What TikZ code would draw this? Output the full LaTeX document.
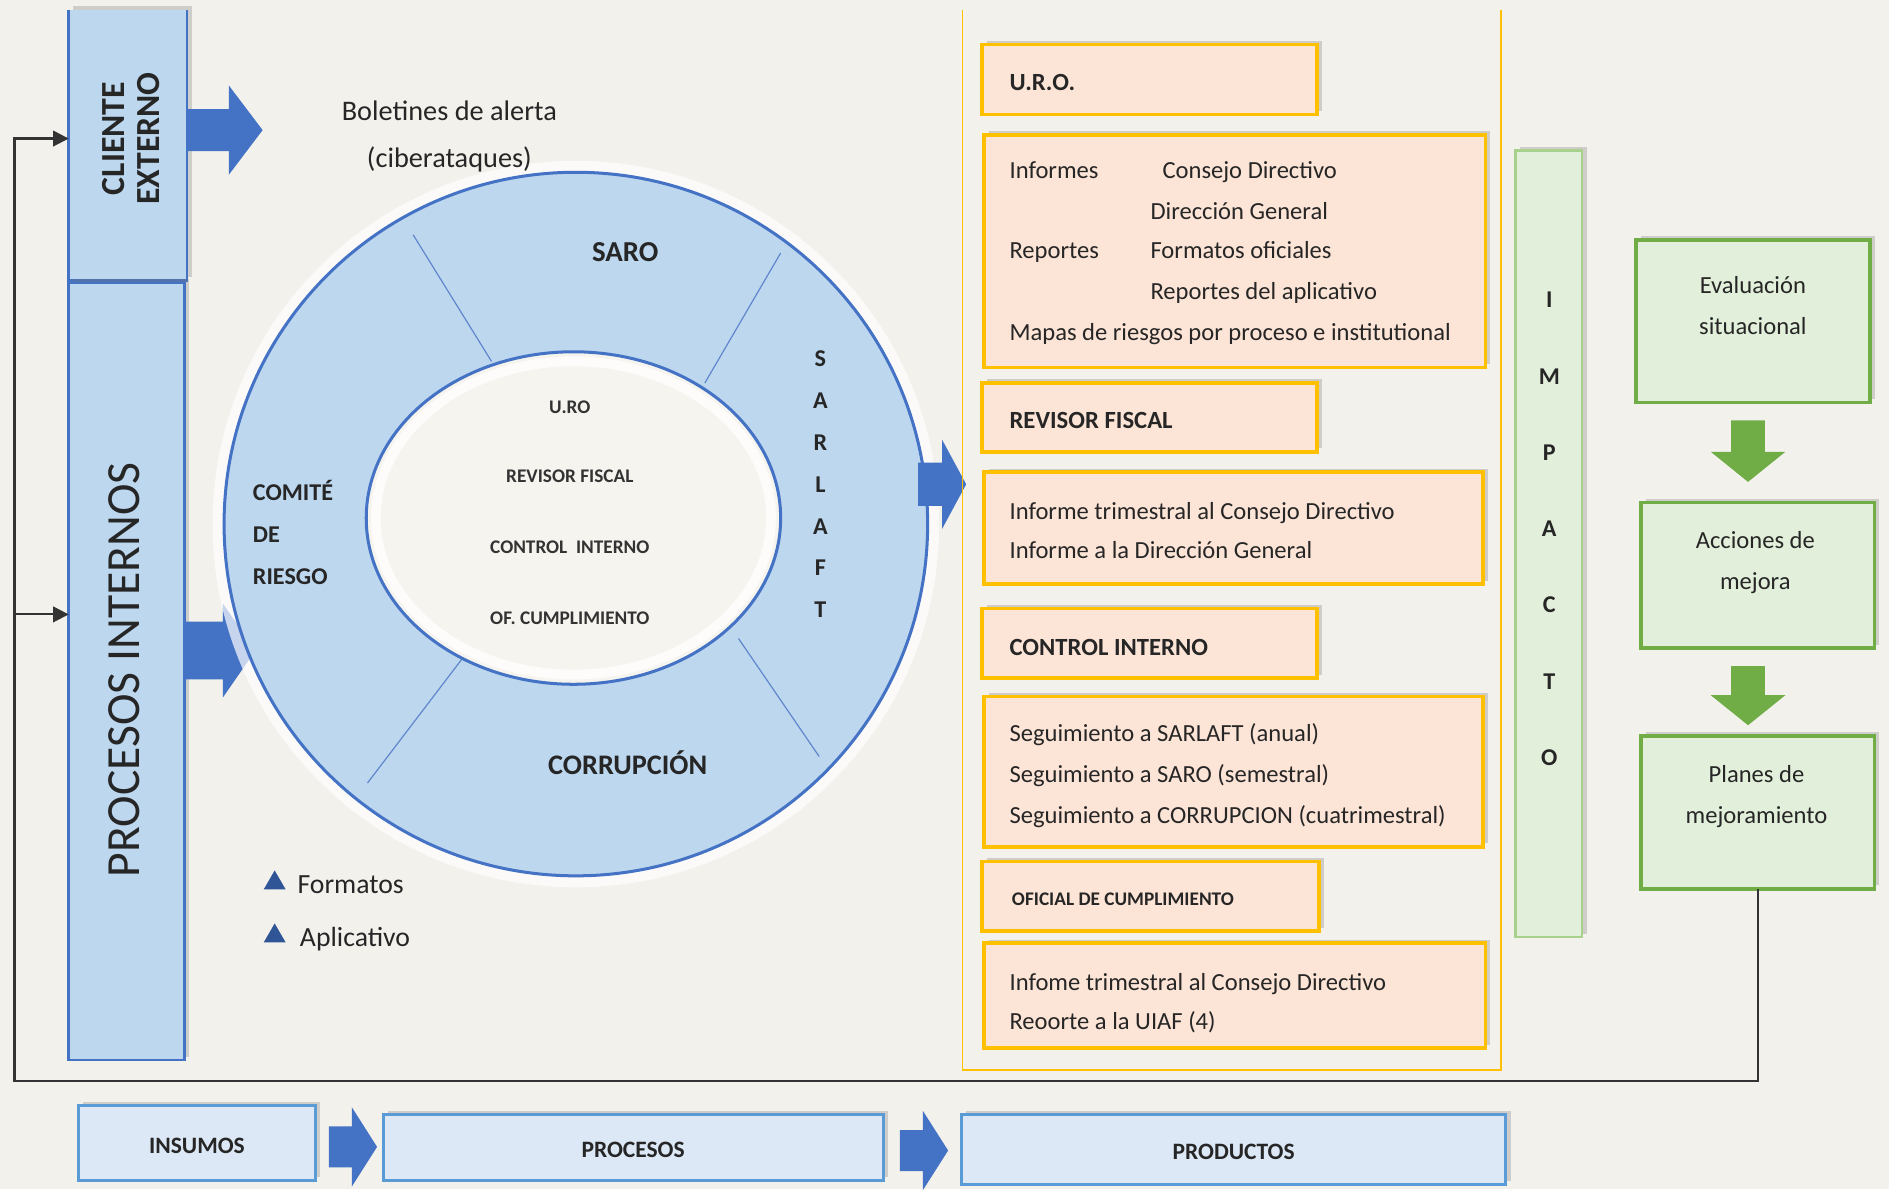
\documentclass[tikz,border=0pt]{standalone}
\usepackage{fontspec}
\setmainfont{Carlito}
\usetikzlibrary{shadows,arrows.meta,shapes.geometric}
\definecolor{bgc}{HTML}{F3F1EC}
\definecolor{lblue}{HTML}{BDD7EE}
\definecolor{dblue}{HTML}{4472C4}
\definecolor{pblue}{HTML}{DCE8F5}
\definecolor{mblue}{HTML}{5B9BD5}
\definecolor{ofill}{HTML}{FCE4D6}
\definecolor{gold}{HTML}{FFC000}
\definecolor{gfill}{HTML}{E2EFDA}
\definecolor{gline}{HTML}{70AD47}
\definecolor{glight}{HTML}{A9D18E}
\definecolor{txt}{HTML}{262626}
\definecolor{innerc}{HTML}{F6F4EF}
\definecolor{tri}{HTML}{2F5597}
\newcommand\myfs[2]{\fontsize{#1}{#2}\selectfont}
% right-pointing block arrow: x0, yc, x1, shaft half, head half, head length, colour
\newcommand\rarrowshape[7]{%
  \fill[#7] (#1,{#2-#4}) -- ({#3-#6},{#2-#4}) -- ({#3-#6},{#2-#5}) -- (#3,#2)
   -- ({#3-#6},{#2+#5}) -- ({#3-#6},{#2+#4}) -- (#1,{#2+#4}) -- cycle;}
% down-pointing block arrow: xc, y0, y1, shaft half, head half, head length, colour
\newcommand\darrowshape[7]{%
  \fill[#7] ({#1-#4},#2) -- ({#1-#4},{#3-#6}) -- ({#1-#5},{#3-#6}) -- (#1,#3)
   -- ({#1+#5},{#3-#6}) -- ({#1+#4},{#3-#6}) -- ({#1+#4},#2) -- cycle;}
\begin{document}
\begin{tikzpicture}[x=1pt,y=-1pt,
  every node/.style={inner sep=0pt,outer sep=0pt,text=txt},
  shad/.style={drop shadow={shadow xshift=4pt,shadow yshift=3pt,fill=black!55,opacity=.28}},
  obox/.style={fill=ofill,draw=gold,line width=3pt,shad,anchor=north west},
  gbox/.style={fill=gfill,draw=gline,line width=3pt,shad,anchor=north west},
  pbox/.style={fill=pblue,draw=mblue,line width=2.5pt,shad,anchor=north west},
  lbl/.style={font=\bfseries\myfs{20.5}{24},anchor=mid west,yshift=-4.5pt},
  body/.style={font=\myfs{20.4}{24},anchor=mid west,yshift=-4.5pt},
  gtxt/.style={align=center,font=\myfs{20.4}{34}},
  btxt/.style={font=\bfseries\myfs{19.5}{22},yshift=-2pt},
  inl/.style={font=\bfseries\myfs{16}{20},text=black!80},
  fb/.style={draw=black!80,line width=1.8pt,-{Triangle[length=13pt,width=13pt]}},
]
\useasboundingbox (0,0) rectangle (1568,987);
\fill[bgc] (0,0) rectangle (1568,987);

% ---------- left column ----------
\node[fill=lblue,shad,minimum width=98pt,minimum height=225pt,anchor=north west] (ce) at (57,8) {};
\draw[dblue,line width=2pt] (ce.north west) -- (ce.south west) -- (ce.south east) -- (ce.north east);
\node[rotate=90,align=center,font=\bfseries\myfs{28}{29}] (cet) at (109,115) {CLIENTE\\EXTERNO};
\node[fill=lblue,draw=dblue,line width=2pt,shad,minimum width=96pt,minimum height=645pt,anchor=north west] (pi) at (57,235) {};
\node[rotate=90,font=\myfs{39.5}{40}] (pit) at (103,556) {PROCESOS INTERNOS};

\rarrowshape{155}{108}{218}{17.5}{37}{28}{dblue}
\rarrowshape{153}{540}{212}{24}{39}{27}{dblue}

% ---------- ring ----------
\draw[white,line width=9pt,opacity=.7] (478,435) ellipse[x radius=297,y radius=297];
\node[circle,minimum size=584pt,fill=lblue,draw=dblue,line width=2.5pt] (ring) at (478,435) {};
\draw[dblue!85,line width=1pt] (343,195) -- (408,300);
\draw[dblue!85,line width=1pt] (648,210) -- (585,318);
\draw[dblue!85,line width=1pt] (305,650) -- (385,545);
\draw[dblue!85,line width=1pt] (613,530) -- (680,628);
\node[ellipse,minimum width=344pt,minimum height=276pt,fill=innerc,draw=dblue,line width=2.5pt] (inner) at (476,430) {};
\draw[white,line width=8pt,opacity=.8] (476,430) ellipse[x radius=164,y radius=130];

\node[align=center,font=\myfs{23.5}{39}] (bol) at (373,113) {Boletines de alerta\\(ciberataques)};

\node[font=\bfseries\myfs{24}{28}] (saro) at (519,209) {SARO};
\node[font=\bfseries\myfs{23.5}{28}] (corr) at (521,633) {CORRUPCIÓN};
\node[align=left,anchor=west,font=\bfseries\myfs{20}{34.5}] (comite) at (210,442) {COMITÉ\\DE\\RIESGO};
\node[align=center,font=\bfseries\myfs{20}{34.7}] (sarlaft) at (681,402) {S\\A\\R\\L\\A\\F\\T};
\node[inl] (i1) at (473,338) {U.RO};
\node[inl] (i2) at (473,395) {REVISOR FISCAL};
\node[inl] (i3) at (473,454) {CONTROL\ \ INTERNO};
\node[inl] (i4) at (473,513) {OF. CUMPLIMIENTO};

\rarrowshape{762}{402}{802}{18}{37}{20}{dblue}

% legend
\node[regular polygon,regular polygon sides=3,fill=tri,minimum size=21pt] (tr1) at (228,733) {};
\node[font=\myfs{23}{26},anchor=mid west,yshift=-4pt] (fmt) at (247,735) {Formatos};
\node[regular polygon,regular polygon sides=3,fill=tri,minimum size=21pt] (tr2) at (228,777) {};
\node[font=\myfs{23}{26},anchor=mid west,yshift=-4pt] (apl) at (249,779) {Aplicativo};

% ---------- products frame ----------
\draw[gold,line width=1.5pt] (799,8) -- (799,888) -- (1246,888) -- (1246,8);

\node[obox,minimum width=278pt,minimum height=58pt] (uro) at (815,37) {};
\node[lbl] (urot) at (838,68) {U.R.O.};
\node[obox,minimum width=416pt,minimum height=193pt] (inf) at (817,112) {};
\node[body] (t1) at (838,141) {Informes};
\node[body] (t2) at (965,141) {Consejo Directivo};
\node[body] (t3) at (955,175) {Dirección General};
\node[body] (t4) at (838,208) {Reportes};
\node[body] (t5) at (955,208) {Formatos oficiales};
\node[body] (t6) at (955,242) {Reportes del aplicativo};
\node[body] (t7) at (838,276) {Mapas de riesgos por proceso e institutional};

\node[obox,minimum width=278pt,minimum height=57pt] (rf) at (815,318) {};
\node[lbl] (rft) at (838,349) {REVISOR FISCAL};
\node[obox,minimum width=414pt,minimum height=93pt] (rfb) at (817,392) {};
\node[body] (r1) at (838,424) {Informe trimestral al Consejo Directivo};
\node[body] (r2) at (838,457) {Informe a la Dirección General};

\node[obox,minimum width=278pt,minimum height=58pt] (ci) at (815,505) {};
\node[lbl] (cit) at (838,537) {CONTROL INTERNO};
\node[obox,minimum width=414pt,minimum height=125pt] (cib) at (817,578) {};
\node[body] (c1) at (838,609) {Seguimiento a SARLAFT (anual)};
\node[body] (c2) at (838,643) {Seguimiento a SARO (semestral)};
\node[body] (c3) at (838,677) {Seguimiento a CORRUPCION (cuatrimestral)};

\node[obox,minimum width=280pt,minimum height=58pt] (oc) at (815,715) {};
\node[lbl,font=\bfseries\myfs{16}{20},yshift=1pt] (oct) at (840,746) {OFICIAL DE CUMPLIMIENTO};
\node[obox,minimum width=416pt,minimum height=87pt] (ocb) at (817,783) {};
\node[body] (o1) at (838,815) {Infome trimestral al Consejo Directivo};
\node[body] (o2) at (838,848) {Reoorte a la UIAF (4)};

% ---------- impacto ----------
\node[fill=gfill,draw=glight,line width=2pt,shad,anchor=north west,minimum width=55pt,minimum height=653pt] (imp) at (1258,125) {};
\node[align=center,font=\bfseries\myfs{20}{63.3}] (impt) at (1286,439) {I\\M\\P\\A\\C\\T\\O};

% ---------- green column ----------
\node[gbox,minimum width=194pt,minimum height=135pt] (ev) at (1358,199) {};
\node[gtxt] (evt) at (1455,254) {Evaluación\\situacional};
\node[gbox,minimum width=194pt,minimum height=121pt] (ac) at (1362,417) {};
\node[gtxt] (act) at (1457,467) {Acciones de\\mejora};
\node[gbox,minimum width=194pt,minimum height=127pt] (pl) at (1362,611) {};
\node[gtxt] (plt) at (1458,661) {Planes de\\mejoramiento};
\darrowshape{1451}{349}{400}{14}{31}{25}{gline}
\darrowshape{1451}{553}{602}{14}{31}{25}{gline}

% ---------- feedback line ----------
\coordinate (fbl) at (12,897);
\coordinate (cein) at (57,115);
\coordinate (piin) at (57,510);
\draw[fb] (pl.south) |- (fbl) |- (cein);
\draw[fb] (fbl |- piin) -- (piin);

% ---------- bottom row ----------
\node[pbox,minimum width=197pt,minimum height=62pt] (ins) at (65,918) {};
\node[btxt] (inst) at (ins.center) {INSUMOS};
\node[pbox,minimum width=415pt,minimum height=55pt] (proc) at (318,925) {};
\node[btxt] (proct) at (proc.center) {PROCESOS};
\node[pbox,minimum width=452pt,minimum height=58pt] (prod) at (798,925) {};
\node[btxt] (prodt) at (prod.center) {PRODUCTOS};
\rarrowshape{273}{952}{313}{17}{33}{21}{dblue}
\rarrowshape{747}{955}{787}{17}{33}{21}{dblue}
\end{tikzpicture}
\end{document}
